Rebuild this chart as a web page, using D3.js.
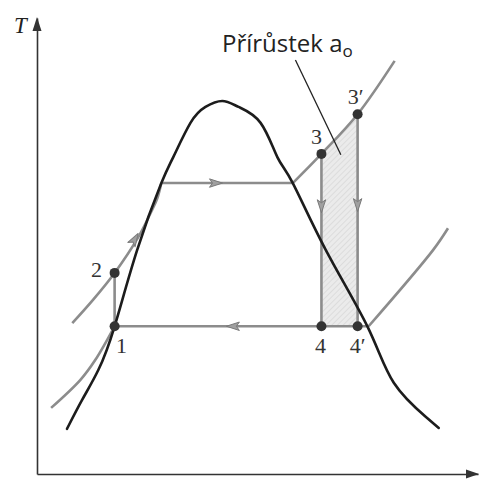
<!DOCTYPE html>
<html>
<head>
<meta charset="utf-8">
<script src="https://cdn.jsdelivr.net/npm/d3@7/dist/d3.min.js"></script>
<style>
  body { margin: 0; background: #fff; }
  svg { display: block; }
</style>
</head>
<body>
<svg id="ts" width="479" height="500"></svg>
<script>
// s (entropy) and T, in arbitrary units 0..10
const domeCurve = [
    [0.68, 0.99], [1.02, 1.62], [1.39, 2.28], [1.76, 3.24], [2.27, 4.91],
    [2.82, 6.38], [3.09, 6.95], [3.48, 7.70], [3.82, 8.05], [4.20, 8.18], [4.57, 8.05],
    [5.07, 7.70], [5.45, 6.95], [5.80, 6.38], [6.55, 4.91], [7.50, 3.22],
    [8.09, 2.00], [8.82, 1.25], [9.11, 1.01]
];

// low pressure isobar (condenser)
const lowLiquid = [[0.32, 1.45], [0.98, 2.06], [1.32, 2.50], [1.76, 3.24]];
const lowMix = [[1.76, 3.24], [7.52, 3.24]];
const lowVapor = [[7.52, 3.24], [8.98, 4.91], [9.32, 5.39]];

// high pressure isobar (boiler)
const highLiquid = [[0.80, 3.31], [1.27, 3.82], [1.76, 4.41], [2.30, 5.20], [2.61, 5.79], [2.73, 6.05], [2.82, 6.38]];
const highMix = [[2.82, 6.38], [5.80, 6.38]];
const highVapor = [[5.80, 6.38], [6.45, 7.02], [7.27, 7.89], [8.11, 9.06]];

const states = [
    { name: "1", s: 1.76, T: 3.24 },
    { name: "2", s: 1.76, T: 4.41 },
    { name: "3", s: 6.45, T: 7.02 },
    { name: "3′", s: 7.27, T: 7.89 },
    { name: "4", s: 6.45, T: 3.24 },
    { name: "4′", s: 7.27, T: 3.24 }
];

// vertical process lines (state names)
const processLines = [["2", "1"], ["3", "4"], ["3′", "4′"]];

// flow arrows: position t along a segment from -> to
const flowArrows = [
    { from: [2.82, 6.38], to: [5.80, 6.38], t: 0.45 },
    { from: [6.45, 3.24], to: [1.76, 3.24], t: 0.45 },
    { from: [6.45, 7.02], to: [6.45, 3.24], t: 0.33 },
    { from: [7.27, 7.89], to: [7.27, 3.24], t: 0.45 },
    { from: [1.76, 4.41], to: [2.61, 5.79], t: 0.6 }
];

const annotationText = "Přírůstek a";
const annotationSub = "o";
const leader = [[5.86, 9.08], [6.89, 7.0]];

const svg = d3.select("#ts");

const xScale = d3.scaleLinear().domain([0, 10]).range([37, 478]);
const yScale = d3.scaleLinear().domain([0, 10]).range([474, 18]);

const lineSmooth = d3.line()
    .x(d => xScale(d[0]))
    .y(d => yScale(d[1]))
    .curve(d3.curveCatmullRom.alpha(0.5));

const lineNatural = d3.line()
    .x(d => xScale(d[0]))
    .y(d => yScale(d[1]))
    .curve(d3.curveNatural);

const lineStraight = d3.line()
    .x(d => xScale(d[0]))
    .y(d => yScale(d[1]));

// hatch pattern for the shaded increment
const defs = svg.append("defs");
const pat = defs.append("pattern")
    .attr("id", "hatch")
    .attr("patternUnits", "userSpaceOnUse")
    .attr("width", 4)
    .attr("height", 4)
    .attr("patternTransform", "rotate(45)");
pat.append("rect").attr("width", 4).attr("height", 4).attr("fill", "#ebebeb");
pat.append("line").attr("x1", 0).attr("y1", 0).attr("x2", 0).attr("y2", 4)
    .attr("stroke", "#d2d2d2").attr("stroke-width", 1.2);

const s3 = states.find(d => d.name === "3");
const s3p = states.find(d => d.name === "3′");
const s4 = states.find(d => d.name === "4");
defs.append("clipPath").attr("id", "incClip")
    .append("rect")
    .attr("x", xScale(s3.s))
    .attr("y", 0)
    .attr("width", xScale(s3p.s) - xScale(s3.s))
    .attr("height", 500);

const areaGen = d3.area()
    .x(d => xScale(d[0]))
    .y0(yScale(s4.T))
    .y1(d => yScale(d[1]))
    .curve(d3.curveCatmullRom.alpha(0.5));

svg.append("path")
    .attr("d", areaGen(highVapor))
    .attr("clip-path", "url(#incClip)")
    .attr("fill", "url(#hatch)");

// Axes (no ticks)
svg.append("g")
    .attr("transform", `translate(0, ${yScale(0)})`)
    .call(d3.axisBottom(xScale).ticks(0).tickSizeOuter(0))
    .call(g => g.select(".domain").attr("stroke", "#333").attr("stroke-width", 1.6));
svg.append("g")
    .attr("transform", `translate(${xScale(0)}, 0)`)
    .call(d3.axisLeft(yScale).ticks(0).tickSizeOuter(0))
    .call(g => g.select(".domain").attr("stroke", "#333").attr("stroke-width", 1.6));

// axis arrowheads
svg.append("path")
    .attr("d", `M${xScale(0)},${yScale(10) - 1} L${xScale(0) - 4.5},${yScale(10) + 13} L${xScale(0) + 4.5},${yScale(10) + 13} Z`)
    .attr("fill", "#333");
svg.append("path")
    .attr("d", `M${xScale(10) + 1},${yScale(0)} L${xScale(10) - 12},${yScale(0) - 4.5} L${xScale(10) - 12},${yScale(0) + 4.5} Z`)
    .attr("fill", "#333");

svg.append("text")
    .attr("x", 14)
    .attr("y", 33)
    .attr("font-family", "Liberation Serif, serif")
    .attr("font-style", "italic")
    .attr("font-size", 23)
    .attr("fill", "#222")
    .text("T");

// isobars
const grey = "#8c8c8c";
[lowLiquid, lowVapor, highLiquid, highVapor].forEach(seg => {
    svg.append("path")
        .attr("d", lineSmooth(seg))
        .attr("fill", "none")
        .attr("stroke", grey)
        .attr("stroke-width", 2.6);
});
[lowMix, highMix].forEach(seg => {
    svg.append("path")
        .attr("d", lineStraight(seg))
        .attr("fill", "none")
        .attr("stroke", grey)
        .attr("stroke-width", 2.6);
});

// vertical process lines
const stateByName = Object.fromEntries(states.map(d => [d.name, d]));
svg.selectAll(".proc")
    .data(processLines)
    .enter()
    .append("line")
    .attr("class", "proc")
    .attr("x1", d => xScale(stateByName[d[0]].s))
    .attr("y1", d => yScale(stateByName[d[0]].T))
    .attr("x2", d => xScale(stateByName[d[1]].s))
    .attr("y2", d => yScale(stateByName[d[1]].T))
    .attr("stroke", grey)
    .attr("stroke-width", 2.6);

// saturation dome
svg.append("path")
    .attr("d", lineNatural(domeCurve))
    .attr("fill", "none")
    .attr("stroke", "#1c1c1c")
    .attr("stroke-width", 2.6)
    .attr("stroke-linecap", "round");

// flow arrows
svg.selectAll(".flow")
    .data(flowArrows)
    .enter()
    .append("path")
    .attr("class", "flow")
    .attr("d", "M2,0 L-11,-4.2 L-8,0 L-11,4.2 Z")
    .attr("fill", "#a0a0a0")
    .attr("stroke", "#7a7a7a")
    .attr("stroke-width", 1)
    .attr("stroke-linejoin", "round")
    .attr("transform", d => {
        const x0 = xScale(d.from[0]), y0 = yScale(d.from[1]);
        const x1 = xScale(d.to[0]), y1 = yScale(d.to[1]);
        const x = x0 + (x1 - x0) * d.t, y = y0 + (y1 - y0) * d.t;
        const ang = Math.atan2(y1 - y0, x1 - x0) * 180 / Math.PI;
        return `translate(${x}, ${y}) rotate(${ang})`;
    });

// state points
svg.selectAll(".point")
    .data(states)
    .enter()
    .append("circle")
    .attr("class", "point")
    .attr("cx", d => xScale(d.s))
    .attr("cy", d => yScale(d.T))
    .attr("r", 5)
    .attr("fill", "#333");

// state labels
const labelOffset = { "1": [7, 27], "2": [-18, 4], "3": [-5, -10], "3′": [-2, -10], "4": [-1, 27], "4′": [0, 27] };
svg.selectAll(".label")
    .data(states)
    .enter()
    .append("text")
    .attr("class", "label")
    .attr("x", d => xScale(d.s) + labelOffset[d.name][0])
    .attr("y", d => yScale(d.T) + labelOffset[d.name][1])
    .attr("text-anchor", "middle")
    .attr("font-family", "Liberation Serif, serif")
    .attr("font-size", 22)
    .attr("fill", "#333")
    .text(d => d.name);

// annotation with leader line
svg.append("path")
    .attr("d", lineStraight(leader))
    .attr("stroke", "#222")
    .attr("stroke-width", 1.3)
    .attr("fill", "none");

const ann = svg.append("text")
    .attr("x", 222)
    .attr("y", 52)
    .attr("font-family", "Open Sans, sans-serif")
    .attr("font-size", 24)
    .attr("fill", "#222");
ann.append("tspan").text(annotationText);
ann.append("tspan")
    .attr("dy", 5)
    .attr("font-size", 17)
    .text(annotationSub);
</script>
</body>
</html>
